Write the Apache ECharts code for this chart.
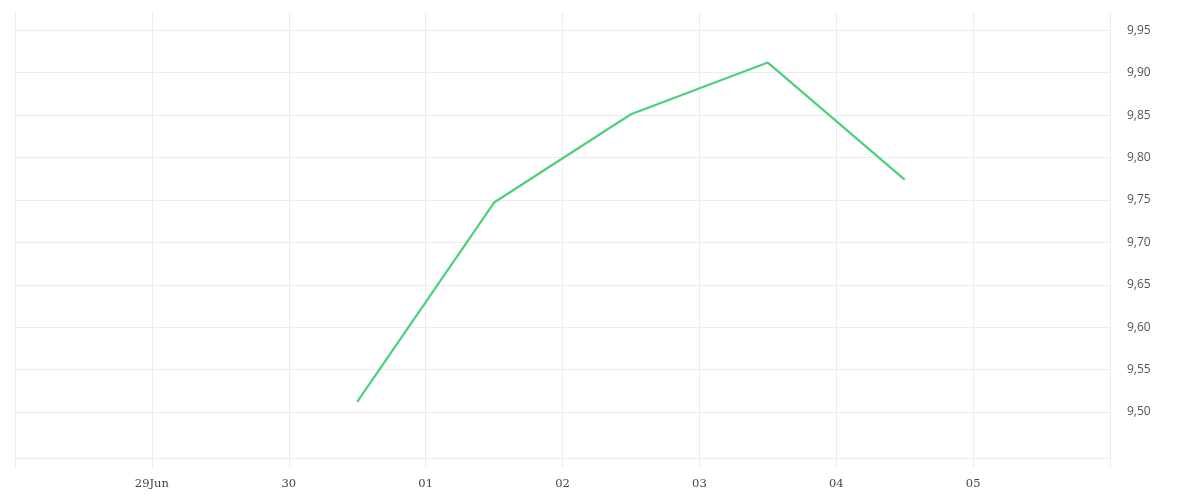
<!DOCTYPE html>
<html>
<head>
<meta charset="utf-8">
<script src="https://cdn.jsdelivr.net/npm/echarts@6/dist/echarts.min.js"></script>
<style>
  html, body { margin: 0; padding: 0; background: #ffffff; }
  #chart { width: 1200px; height: 500px; }
</style>
</head>
<body>
<div id="chart"></div>
<script>
// ---- data ----
const pointTimes = ['2023-06-30T12:00:00Z', '2023-07-01T12:00:00Z', '2023-07-02T12:00:00Z', '2023-07-03T12:00:00Z', '2023-07-04T12:00:00Z'];
const values = [9.512, 9.747, 9.851, 9.912, 9.774];
const xTickLabels = ['', '29Jun', '30', '01', '02', '03', '04', '05', ''];
const yTickValues = [9.50, 9.55, 9.60, 9.65, 9.70, 9.75, 9.80, 9.85, 9.90, 9.95];

// ---- chart ----
const DAY = 86400000;
const xMin = Date.UTC(2023, 5, 28);
const xMax = Date.UTC(2023, 6, 6);
const gridColor = '#ececec';

const seriesData = pointTimes.map((t, i) => [Date.parse(t), values[i]]);

const chart = echarts.init(document.getElementById('chart'), null, { renderer: 'canvas' });
chart.setOption({
  animation: false,
  backgroundColor: '#ffffff',
  grid: { left: 15, right: 90, top: 12, bottom: 42, containLabel: false },
  xAxis: {
    type: 'value',
    min: xMin,
    max: xMax,
    interval: DAY,
    axisLine: { show: true, lineStyle: { color: gridColor, width: 1 } },
    axisTick: { show: true, length: 10, lineStyle: { color: gridColor, width: 1 } },
    splitLine: { show: true, lineStyle: { color: gridColor, width: 1 } },
    axisLabel: {
      margin: 20,
      color: '#444',
      fontFamily: '"DejaVu Serif", serif',
      fontSize: 11.5,
      formatter: function (v) {
        const idx = Math.round((v - xMin) / DAY);
        return xTickLabels[idx] || '';
      }
    }
  },
  yAxis: {
    type: 'value',
    position: 'right',
    min: 9.4458,
    max: 9.9716,
    splitNumber: 10,
    axisLine: { show: false },
    axisTick: { show: false },
    splitLine: { show: false },
    axisLabel: {
      margin: 17,
      color: '#555',
      fontFamily: '"Open Sans", sans-serif',
      fontSize: 12,
      showMinLabel: false,
      showMaxLabel: false,
      formatter: function (v) {
        const hit = yTickValues.find(t => Math.abs(t - v) < 1e-6);
        return hit === undefined ? '' : hit.toFixed(2).replace('.', ',');
      }
    }
  },
  series: [{
    type: 'line',
    z: 10,
    data: seriesData,
    showSymbol: false,
    symbol: 'none',
    lineStyle: { color: '#4dd07b', width: 2.2 },
    itemStyle: { color: '#4dd07b' },
    markLine: {
      silent: true,
      symbol: 'none',
      label: { show: false },
      lineStyle: { type: 'solid', color: gridColor, width: 1 },
      emphasis: { disabled: true },
      data: yTickValues.map(v => ({ yAxis: v }))
    }
  }]
});
</script>
</body>
</html>
